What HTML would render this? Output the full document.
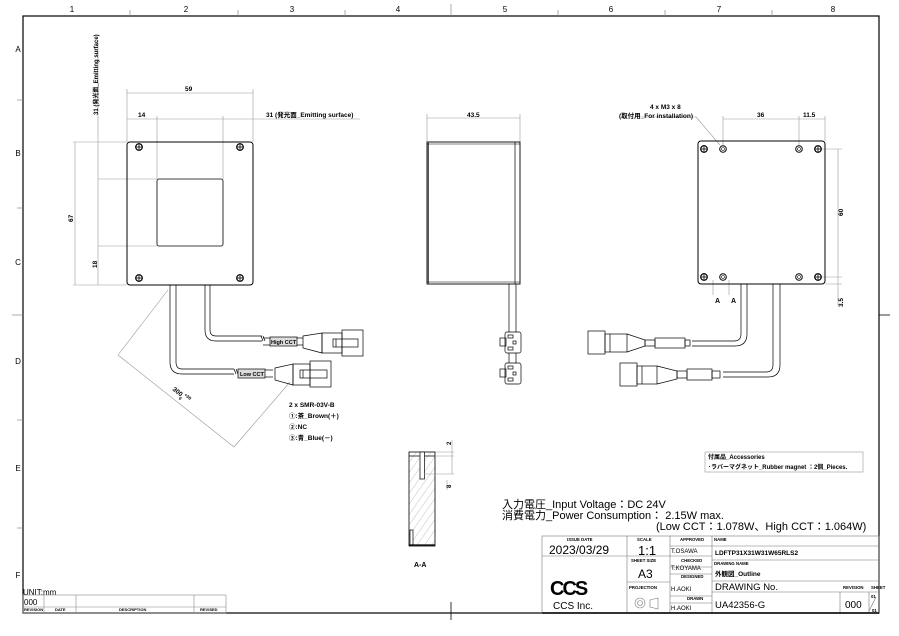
<!DOCTYPE html>
<html><head><meta charset="utf-8"><style>
html,body{margin:0;padding:0;background:#fff;}
svg{display:block;}
text{font-family:"Liberation Sans","Noto Sans CJK JP",sans-serif;fill:#000;}
</style></head><body>
<svg width="899" height="636" viewBox="0 0 899 636" xmlns="http://www.w3.org/2000/svg">
<defs>
<pattern id="h" width="6" height="6" patternUnits="userSpaceOnUse" patternTransform="rotate(35)"><line x1="0" y1="0" x2="0" y2="6" stroke="#999" stroke-width="0.6"/></pattern>
<g id="scr"><circle r="3.3" fill="#fff" stroke="#000" stroke-width="1.2"/><line x1="-3" y1="0" x2="3" y2="0" stroke="#000" stroke-width="0.8"/><line x1="0" y1="-3" x2="0" y2="3" stroke="#000" stroke-width="0.8"/></g>
<g id="hole"><circle r="3.3" fill="#fff" stroke="#000" stroke-width="1"/><circle r="1.5" fill="none" stroke="#000" stroke-width="0.6"/></g>
</defs>
<rect x="23" y="16" width="856" height="597" fill="none" stroke="#000" stroke-width="1.2"/>
<g stroke="#888" stroke-width="0.7">
<line x1="130" y1="10" x2="130" y2="16"/><line x1="238" y1="10" x2="238" y2="16"/><line x1="345" y1="10" x2="345" y2="16"/><line x1="451" y1="4" x2="451" y2="16"/><line x1="558" y1="10" x2="558" y2="16"/><line x1="665" y1="10" x2="665" y2="16"/><line x1="772" y1="10" x2="772" y2="16"/>
<line x1="17" y1="100" x2="23" y2="100"/><line x1="17" y1="208" x2="23" y2="208"/><line x1="12" y1="315" x2="23" y2="315"/><line x1="17" y1="420" x2="23" y2="420"/><line x1="17" y1="528" x2="23" y2="528"/>
</g>
<line x1="879" y1="315" x2="890" y2="315" stroke="#000" stroke-width="0.8"/>
<line x1="451" y1="602" x2="451" y2="620" stroke="#000" stroke-width="0.8"/>
<g font-size="8" text-anchor="middle">
<text x="72" y="12">1</text><text x="186" y="12">2</text><text x="292" y="12">3</text><text x="398" y="12">4</text><text x="505" y="12">5</text><text x="611" y="12">6</text><text x="719" y="12">7</text><text x="833" y="12">8</text>
<text x="18" y="52">A</text><text x="18" y="156">B</text><text x="18" y="265">C</text><text x="18" y="364">D</text><text x="18" y="471">E</text><text x="18" y="578">F</text>
</g>

<g stroke="#999" stroke-width="0.6" fill="none">
<line x1="127" y1="93" x2="253" y2="93"/><line x1="127" y1="89" x2="127" y2="142"/><line x1="253" y1="89" x2="253" y2="142"/>
<line x1="127" y1="119" x2="360" y2="119"/><line x1="157" y1="116" x2="157" y2="179"/><line x1="223" y1="116" x2="223" y2="179"/>
<line x1="98" y1="40" x2="98" y2="285"/><line x1="98" y1="179" x2="157" y2="179"/><line x1="98" y1="246" x2="157" y2="246"/>
<line x1="75" y1="142" x2="75" y2="285"/><line x1="73" y1="142" x2="127" y2="142"/><line x1="73" y1="285" x2="127" y2="285"/>
<line x1="168" y1="290" x2="118" y2="355"/><line x1="118" y1="355" x2="234" y2="447"/><line x1="234" y1="447" x2="290" y2="382"/>
</g>
<g font-size="6.5" font-weight="bold">
<text x="185" y="91">59</text><text x="138" y="117">14</text><text x="266" y="117">31 (発光面_Emitting surface)</text>
<text transform="translate(98,115) rotate(-90)" font-size="6">31 (発光面_Emitting surface)</text>
<text transform="translate(73,222) rotate(-90)">67</text>
<text transform="translate(97,268) rotate(-90)">18</text>
<text transform="translate(172,390) rotate(38)">300 <tspan font-size="4.5" dy="-3">+30</tspan><tspan font-size="4.5" dx="-10" dy="6">0</tspan></text>
</g>
<rect x="127" y="142" width="126" height="143" rx="3" fill="none" stroke="#000" stroke-width="1"/>
<rect x="157" y="179" width="66" height="67" rx="2" fill="none" stroke="#000" stroke-width="0.8"/>
<use href="#scr" x="139" y="147"/><use href="#scr" x="240" y="147"/><use href="#scr" x="139" y="278"/><use href="#scr" x="240" y="278"/>
<g fill="none" stroke="#000" stroke-width="0.7">
<path d="M205 285 V330 Q205 341 216 341 H262"/><path d="M210 285 V330 Q210 336 216 336 H262"/>
<path d="M170 285 V362 Q170 374 182 374 H234"/><path d="M176 285 V362 Q176 369 182 369 H234"/>
<path d="M263 336 L265 341 M261 336 L263 341"/>
<path d="M236 369 L238 374 M234 369 L236 374"/>
<rect x="270" y="337" width="27" height="9" fill="#ddd"/><line x1="263" y1="338" x2="270" y2="338"/><line x1="263" y1="345" x2="270" y2="345"/>
<line x1="297" y1="338" x2="303" y2="338"/><line x1="297" y1="345" x2="303" y2="345"/>
<rect x="238" y="369" width="27" height="9" fill="#ddd"/><line x1="265" y1="370" x2="273" y2="370"/><line x1="265" y1="377" x2="273" y2="377"/>
<path d="M303 336 L322 333 V353 L303 348 Z"/><rect x="322" y="333" width="20" height="20"/><rect x="342" y="330" width="21" height="26"/><rect x="333" y="339" width="25" height="8"/><line x1="336" y1="339" x2="336" y2="347"/>
<path d="M275 368 L293 364 V385 L275 380 Z"/><rect x="293" y="364" width="17" height="21"/><rect x="310" y="361" width="21" height="26"/><rect x="300" y="370" width="27" height="8"/><line x1="303" y1="370" x2="303" y2="378"/>
</g>
<g font-size="5.5" font-weight="bold"><text x="271" y="344">High CCT</text><text x="240" y="376">Low CCT</text></g>
<g font-size="6.5" font-weight="bold"><text x="289" y="407">2 x SMR-03V-B</text><text x="289" y="418">①:茶_Brown(＋)</text><text x="289" y="429">②:NC</text><text x="289" y="440">③:青_Blue(－)</text></g>

<g stroke="#999" stroke-width="0.6"><line x1="427" y1="118" x2="520" y2="118"/><line x1="427" y1="114" x2="427" y2="142"/><line x1="520" y1="114" x2="520" y2="142"/></g>
<text x="467" y="117" font-size="6.5" font-weight="bold">43.5</text>
<rect x="427" y="142" width="93" height="142" fill="none" stroke="#000" stroke-width="0.9"/>
<rect x="427" y="142" width="2" height="142" fill="#555"/>
<line x1="515" y1="142" x2="515" y2="284" stroke="#000" stroke-width="0.7"/>
<line x1="427" y1="144" x2="520" y2="144" stroke="#000" stroke-width="0.5"/><line x1="427" y1="282" x2="520" y2="282" stroke="#000" stroke-width="0.5"/>
<g fill="none" stroke="#000" stroke-width="0.7">
<line x1="509" y1="284" x2="509" y2="332"/><line x1="516" y1="284" x2="516" y2="332"/>
<rect x="505" y="332" width="16" height="21" rx="2"/><rect x="500" y="338" width="6" height="8"/><rect x="508" y="335" width="5" height="3"/><rect x="508" y="347" width="5" height="3"/><rect x="513" y="341" width="3" height="3"/>
<line x1="509" y1="353" x2="509" y2="363"/><line x1="516" y1="353" x2="516" y2="363"/>
<rect x="505" y="363" width="16" height="21" rx="2"/><rect x="500" y="369" width="6" height="8"/><rect x="508" y="366" width="5" height="3"/><rect x="508" y="378" width="5" height="3"/><rect x="513" y="372" width="3" height="3"/>
</g>

<g stroke="#999" stroke-width="0.6" fill="none">
<line x1="723" y1="119" x2="825" y2="119"/><line x1="723" y1="116" x2="723" y2="145"/><line x1="799" y1="116" x2="799" y2="145"/><line x1="825" y1="116" x2="825" y2="141"/>
<line x1="838" y1="149" x2="838" y2="305"/><line x1="822" y1="149" x2="842" y2="149"/><line x1="822" y1="277" x2="842" y2="277"/><line x1="825" y1="284" x2="842" y2="284"/>
<line x1="696" y1="117" x2="720" y2="145"/><line x1="640" y1="117" x2="696" y2="117"/>
<line x1="713" y1="280" x2="713" y2="295"/><line x1="729" y1="280" x2="729" y2="295"/>
</g>
<g font-size="6.5" font-weight="bold">
<text x="650" y="109">4 x M3 x 8</text><text x="619" y="118">(取付用_For installation)</text>
<text x="757" y="117">36</text><text x="803" y="117">11.5</text>
<text transform="translate(843,216) rotate(-90)">60</text>
<text transform="translate(843,307) rotate(-90)">3.5</text>
<text x="715" y="303" font-size="7">A</text><text x="731" y="303" font-size="7">A</text>
</g>
<rect x="698" y="141" width="127" height="143" rx="3" fill="none" stroke="#000" stroke-width="1"/>
<use href="#scr" x="704" y="149"/><use href="#scr" x="818" y="149"/><use href="#scr" x="704" y="277"/><use href="#scr" x="818" y="277"/>
<use href="#hole" x="723" y="149"/><use href="#hole" x="799" y="149"/><use href="#hole" x="723" y="277"/><use href="#hole" x="799" y="277"/>
<g fill="none" stroke="#000" stroke-width="0.7">
<path d="M741 284 V334 Q741 341 734 341 H692"/><path d="M747 284 V334 Q747 346 735 346 H692"/>
<path d="M773 284 V365 Q773 372 766 372 H723"/><path d="M780 284 V365 Q780 377 768 377 H723"/>
<rect x="588" y="331" width="17" height="23"/><rect x="605" y="334" width="22" height="18"/><line x1="610" y1="334" x2="610" y2="352"/>
<path d="M627 334 L645 340 V346 L627 352"/><rect x="645" y="340" width="10" height="6"/><rect x="655" y="338" width="30" height="10"/><rect x="685" y="340" width="5" height="6"/>
<rect x="620" y="363" width="17" height="23"/><rect x="637" y="366" width="20" height="18"/><line x1="642" y1="366" x2="642" y2="384"/>
<path d="M657 366 L677 371 V379 L657 384"/><rect x="677" y="371" width="10" height="7"/><rect x="687" y="369" width="25" height="11"/><rect x="712" y="371" width="8" height="7"/>
</g>

<rect x="409" y="452" width="26" height="94" fill="url(#h)" stroke="#000" stroke-width="0.8"/>
<line x1="409" y1="456" x2="435" y2="456" stroke="#000" stroke-width="0.7"/>
<rect x="420" y="452" width="4.5" height="27" fill="#fff" stroke="#000" stroke-width="0.7"/>
<rect x="410" y="530" width="3" height="15" fill="#fff" stroke="#000" stroke-width="0.7"/>
<line x1="409" y1="545" x2="435" y2="545" stroke="#000" stroke-width="1.2"/>
<g stroke="#999" stroke-width="0.6"><line x1="435" y1="452" x2="454" y2="452"/><line x1="435" y1="456" x2="454" y2="456"/><line x1="424" y1="474" x2="454" y2="474"/><line x1="452" y1="440" x2="452" y2="474"/><line x1="447" y1="480" x2="447" y2="490"/></g>
<g font-size="6" font-weight="bold"><text transform="translate(451,445) rotate(-90)">2</text><text transform="translate(451,488) rotate(-90)">8</text></g>
<text x="414" y="567" font-size="7" font-weight="bold">A-A</text>

<text x="23" y="595" font-size="8">UNIT:mm</text>
<g stroke="#888" stroke-width="0.6" fill="none">
<rect x="23" y="595" width="203" height="18"/><line x1="23" y1="607" x2="226" y2="607"/>
<line x1="44" y1="595" x2="44" y2="613"/><line x1="76" y1="595" x2="76" y2="613"/><line x1="194" y1="595" x2="194" y2="613"/>
</g>
<text x="24" y="605" font-size="8">000</text>
<g font-size="4" font-weight="bold"><text x="24" y="611">REVISION</text><text x="55" y="611">DATE</text><text x="119" y="611">DESCRIPTION</text><text x="200" y="611">REVISED</text></g>

<rect x="705" y="452" width="158" height="20" fill="none" stroke="#999" stroke-width="0.6"/>
<g font-size="6" font-weight="bold"><text x="708" y="459">付属品_Accessories</text><text x="708" y="469">･ラバーマグネット_Rubber magnet ：2個_Pieces.</text></g>
<g font-size="11"><text x="502" y="508">入力電圧_Input Voltage：DC 24V</text><text x="502" y="519">消費電力_Power Consumption： 2.15W max.</text><text x="656" y="530">(Low CCT：1.078W、High CCT：1.064W)</text></g>

<g stroke="#777" stroke-width="0.6" fill="none">
<rect x="542" y="536" width="337" height="77"/>
<line x1="627" y1="536" x2="627" y2="613"/><line x1="670" y1="536" x2="670" y2="613"/><line x1="712" y1="536" x2="712" y2="613"/>
<line x1="542" y1="556" x2="712" y2="556"/><line x1="627" y1="582" x2="670" y2="582"/>
<line x1="712" y1="546" x2="879" y2="546"/><line x1="712" y1="560" x2="879" y2="560"/><line x1="712" y1="581" x2="879" y2="581"/><line x1="712" y1="592" x2="879" y2="592"/>
<line x1="670" y1="546" x2="712" y2="546"/><line x1="670" y1="567" x2="712" y2="567"/><line x1="670" y1="574" x2="712" y2="574"/><line x1="670" y1="596" x2="712" y2="596"/><line x1="670" y1="603" x2="712" y2="603"/>
<line x1="840" y1="592" x2="840" y2="613"/><line x1="869" y1="592" x2="869" y2="613"/><line x1="869" y1="611" x2="876" y2="597"/>
<circle cx="640" cy="603" r="5"/><circle cx="640" cy="603" r="2.5"/><path d="M650 600 L658 598 V609 L650 607 Z"/>
</g>
<line x1="542" y1="613" x2="879" y2="613" stroke="#000" stroke-width="1.4"/>
<g font-size="4.3" font-weight="bold"><text x="567" y="541">ISSUE DATE</text><text x="637" y="541">SCALE</text><text x="680" y="541">APPROVED</text><text x="714" y="541">NAME</text>
<text x="631" y="562">SHEET SIZE</text><text x="681" y="562">CHECKED</text><text x="714" y="565">DRAWING NAME</text><text x="681" y="578">DESIGNED</text>
<text x="629" y="589">PROJECTION</text><text x="687" y="600">DRAWN</text><text x="843" y="589">REVISION</text><text x="871" y="589">SHEET</text>
<text x="871" y="598">01</text><text x="872" y="612">01</text></g>
<text x="549" y="554" font-size="12">2023/03/29</text><text x="638" y="555" font-size="13">1:1</text><text x="638" y="578" font-size="12">A3</text>
<g font-size="6"><text x="671" y="553">T.OSAWA</text><text x="671" y="570">T.KOYAMA</text><text x="671" y="591">H.AOKI</text><text x="671" y="610">H.AOKI</text></g>
<g font-size="6.5" font-weight="bold"><text x="715" y="555">LDFTP31X31W31W65RLS2</text><text x="715" y="576">外観図_Outline</text></g>
<text x="715" y="590" font-size="9.5">DRAWING No.</text><text x="715" y="608" font-size="9.5">UA42356-G</text><text x="845" y="608" font-size="10">000</text>
<text x="550" y="595" font-size="20" font-weight="bold" letter-spacing="-2">CCS</text>
<text x="553" y="609" font-size="10">CCS Inc.</text>
</svg>
</body></html>
